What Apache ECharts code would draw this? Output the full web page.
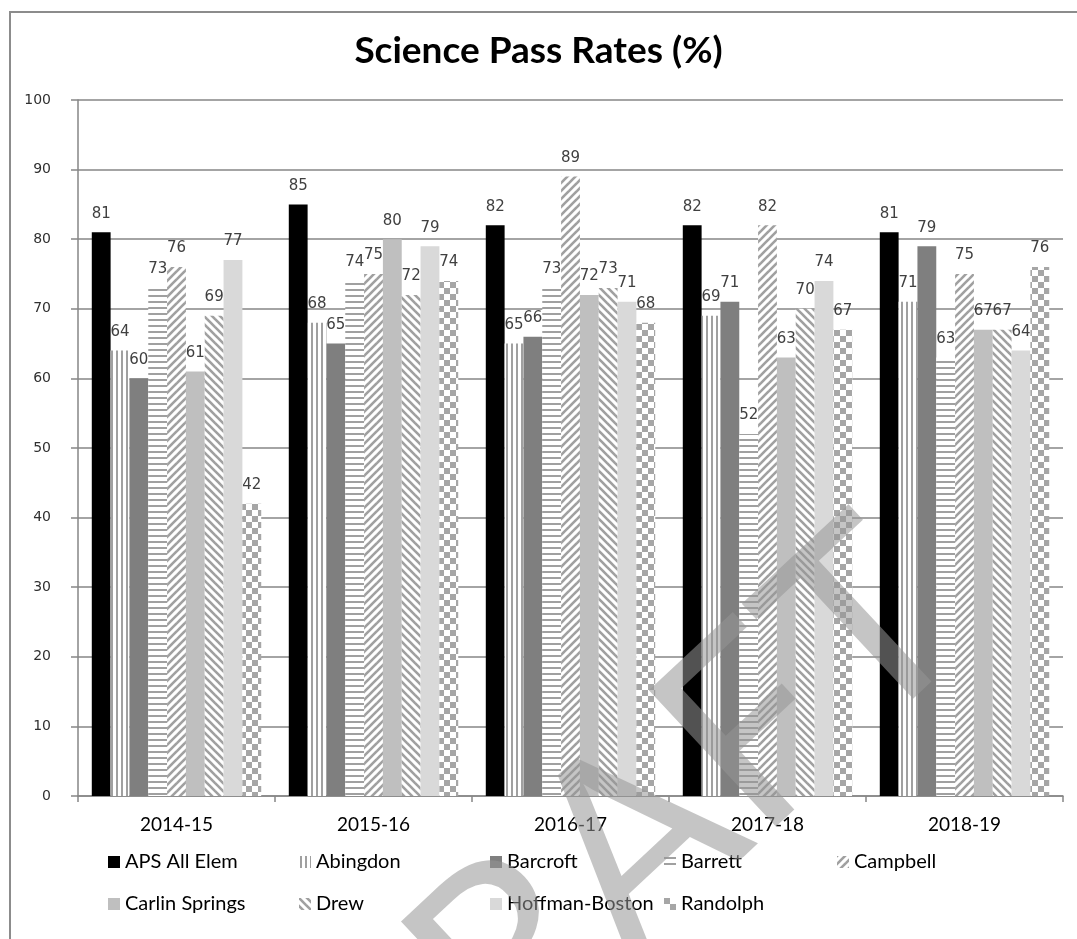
<!DOCTYPE html>
<html>
<head>
<meta charset="utf-8">
<script src="https://cdn.jsdelivr.net/npm/echarts@6/dist/echarts.min.js"></script>
<style>
html,body{margin:0;padding:0;background:#fff;}
#chart{width:1077px;height:939px;}
</style>
</head>
<body>
<div id="chart"></div>
<script>
const categories = ['2014-15', '2015-16', '2016-17', '2017-18', '2018-19'];
const seriesNames = ['APS All Elem', 'Abingdon', 'Barcroft', 'Barrett', 'Campbell', 'Carlin Springs', 'Drew', 'Hoffman-Boston', 'Randolph'];
const apsAllElem   = [81, 85, 82, 82, 81];
const abingdon     = [64, 68, 65, 69, 71];
const barcroft     = [60, 65, 66, 71, 79];
const barrett      = [73, 74, 73, 52, 63];
const campbell     = [76, 75, 89, 82, 75];
const carlinSprings= [61, 80, 72, 63, 67];
const drew         = [69, 72, 73, 70, 67];
const hoffmanBoston= [77, 79, 71, 74, 64];
const randolph     = [42, 74, 68, 67, 76];
const yTicks = [0, 10, 20, 30, 40, 50, 60, 70, 80, 90, 100];

const seriesValues = [apsAllElem, abingdon, barcroft, barrett, campbell, carlinSprings, drew, hoffmanBoston, randolph];

function tile(size, draw) {
  const c = document.createElement('canvas');
  c.width = size; c.height = size;
  const ctx = c.getContext('2d');
  ctx.fillStyle = '#fff';
  ctx.fillRect(0, 0, size, size);
  draw(ctx, size);
  return { image: c, repeat: 'repeat' };
}
const stripeGray = '#a0a0a0';
const patVertical = tile(5, (ctx) => { ctx.fillStyle = stripeGray; ctx.fillRect(1, 0, 2, 5); });
const patHorizontal = tile(6, (ctx) => { ctx.fillStyle = stripeGray; ctx.fillRect(0, 1, 6, 2); });
function diag(up) {
  return tile(8, (ctx, s) => {
    ctx.strokeStyle = stripeGray; ctx.lineWidth = 2.6;
    const offs = [-s, 0, s];
    offs.forEach(o => {
      ctx.beginPath();
      if (up) { ctx.moveTo(o - 1, s + 1); ctx.lineTo(o + s + 1, -1); }
      else { ctx.moveTo(o - 1, -1); ctx.lineTo(o + s + 1, s + 1); }
      ctx.stroke();
    });
  });
}
const patUp = diag(true);
const patDown = diag(false);
const patCheck = tile(12, (ctx) => {
  ctx.fillStyle = '#a6a6a6';
  ctx.fillRect(0, 0, 6, 6);
  ctx.fillRect(6, 6, 6, 6);
});

const fills = ['#000000', patVertical, '#7f7f7f', patHorizontal, patUp, '#bfbfbf', patDown, '#d9d9d9', patCheck];

const chart = echarts.init(document.getElementById('chart'), null, { renderer: 'canvas' });

const legendPos = [
  [108, 852], [299, 852], [490, 852], [664, 852], [837, 852],
  [108, 894], [299, 894], [490, 894], [664, 894]
];
const legends = seriesNames.map((n, i) => ({
  data: [n],
  left: legendPos[i][0],
  top: legendPos[i][1],
  padding: 0,
  itemWidth: 12,
  itemHeight: 12,
  icon: 'rect',
  textStyle: { fontFamily: 'Lato', fontSize: 20, color: '#000' }
}));

const series = seriesNames.map((n, i) => ({
  name: n,
  type: 'bar',
  data: seriesValues[i],
  barGap: '0%',
  barCategoryGap: '14%',
  itemStyle: { color: fills[i] },
  label: {
    show: true,
    position: 'top',
    distance: 11,
    fontFamily: 'DejaVu Sans',
    fontSize: 15,
    color: '#404040'
  }
}));

chart.setOption({
  animation: false,
  backgroundColor: '#fff',
  title: {
    text: 'Science Pass Rates (%)',
    left: 'center',
    top: 28,
    textStyle: { fontFamily: 'Lato', fontWeight: 'bold', fontSize: 37, color: '#000' }
  },
  legend: legends,
  grid: { left: 78, right: 14, top: 100, bottom: 143, containLabel: false },
  xAxis: {
    type: 'category',
    data: categories,
    axisLine: { lineStyle: { color: '#868686', width: 1.5 } },
    axisTick: { show: true, length: 6, lineStyle: { color: '#868686', width: 1.5 } },
    axisLabel: { margin: 19, fontFamily: 'Lato', fontSize: 19, color: '#000' }
  },
  yAxis: {
    type: 'value',
    min: yTicks[0],
    max: yTicks[yTicks.length - 1],
    interval: 10,
    axisLine: { show: true, lineStyle: { color: '#868686', width: 1.5 } },
    axisTick: { show: true, length: 7, lineStyle: { color: '#868686', width: 1.5 } },
    axisLabel: { margin: 27, fontFamily: 'DejaVu Sans', fontSize: 14, color: '#303030' },
    splitLine: { show: true, lineStyle: { color: '#868686', width: 1.5 } }
  },
  series: series,
  graphic: [
    {
      type: 'rect',
      shape: { x: 10, y: 12, width: 1200, height: 1100 },
      style: { fill: null, stroke: '#8c8c8c', lineWidth: 2 },
      silent: true,
      z: 100
    },
    {
      type: 'text',
      x: 615, y: 862,
      rotation: 43 * Math.PI / 180,
      style: {
        text: 'DRAFT',
        font: '260px Lato',
        fill: 'rgba(150,150,150,0.55)',
        textAlign: 'center',
        textVerticalAlign: 'middle'
      },
      silent: true,
      z: 200
    }
  ]
});
</script>
</body>
</html>
